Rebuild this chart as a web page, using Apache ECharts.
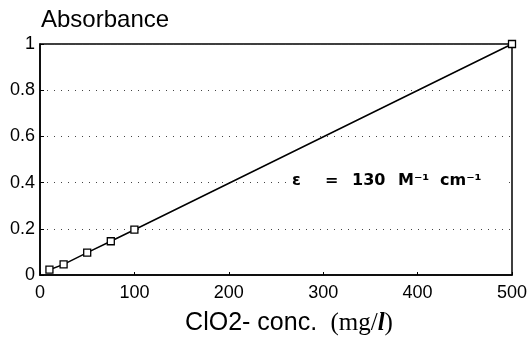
<!DOCTYPE html>
<html>
<head>
<meta charset="utf-8">
<script src="https://cdn.jsdelivr.net/npm/echarts@6/dist/echarts.min.js"></script>
<style>
  html, body { margin: 0; padding: 0; background: #fff; }
  #container { width: 528px; height: 337px; }
</style>
</head>
<body>
<div id="container"></div>
<script>
// concentration (mg/l) vs absorbance
const concValues = [10, 25, 50, 75, 100, 500];
const absorbance = [0.023, 0.046, 0.097, 0.146, 0.196, 1.0];
const xTicks = [0, 100, 200, 300, 400, 500];
const yTicks = [0, 0.2, 0.4, 0.6, 0.8, 1];

const myChart = echarts.init(document.getElementById('container'), null, { renderer: 'canvas' });
const font = 'Liberation Sans, Arial, sans-serif';
const noteFont = 'DejaVu Sans, sans-serif';

const option = {
  animation: false,
  backgroundColor: '#fff',
  title: {
    text: 'Absorbance',
    left: 36,
    top: 3,
    textStyle: { fontFamily: font, fontSize: 24, fontWeight: 'normal', color: '#000' }
  },
  grid: {
    left: 40, right: 16, top: 44, bottom: 62,
    outerBoundsMode: 'none',
    containLabel: false,
    show: true,
    borderColor: '#000',
    borderWidth: 1.5,
    backgroundColor: 'transparent'
  },
  xAxis: {
    type: 'value',
    min: xTicks[0],
    max: xTicks[xTicks.length - 1],
    interval: 100,
    name: '{a|ClO2- conc.}    {b|(mg/}{c|l}{b|)}',
    nameLocation: 'middle',
    nameGap: 36,
    nameTextStyle: {
      padding: [0, 0, 0, 26],
      rich: {
        a: { fontFamily: font, fontSize: 25, color: '#000' },
        b: { fontFamily: 'Liberation Serif, serif', fontSize: 25, color: '#000' },
        c: { fontFamily: 'Liberation Serif, serif', fontSize: 25, fontStyle: 'italic', fontWeight: 'bold', color: '#000' }
      }
    },
    axisLine: { lineStyle: { color: '#000', width: 1.5 } },
    axisTick: { inside: true, length: 3, lineStyle: { color: '#000' } },
    axisLabel: { fontFamily: font, fontSize: 18, color: '#000', margin: 9 },
    splitLine: { show: false }
  },
  yAxis: {
    type: 'value',
    min: yTicks[0],
    max: yTicks[yTicks.length - 1],
    interval: 0.2,
    axisLine: { show: true, lineStyle: { color: '#000', width: 1.5 } },
    axisTick: { show: true, inside: true, length: 4, lineStyle: { color: '#000' } },
    axisLabel: { fontFamily: font, fontSize: 18, color: '#000', margin: 5 },
    splitLine: {
      show: true,
      lineStyle: { color: '#444', type: [1, 6], width: 1 }
    }
  },
  graphic: [
    {
      type: 'text',
      left: 289,
      top: 171,
      z: 10,
      style: {
        text: '{e|ε}{q|=}{n|130}{m|M⁻¹}{c|cm⁻¹}',
        backgroundColor: '#fff',
        padding: [2, 3, 2, 3],
        rich: {
          e: { fontFamily: noteFont, fontWeight: 'bold', fontSize: 16, width: 33, fill: '#000' },
          q: { fontFamily: noteFont, fontWeight: 'bold', fontSize: 16, width: 27, fill: '#000' },
          n: { fontFamily: noteFont, fontWeight: 'bold', fontSize: 16, width: 46, fill: '#000' },
          m: { fontFamily: noteFont, fontWeight: 'bold', fontSize: 16, width: 42, fill: '#000' },
          c: { fontFamily: noteFont, fontWeight: 'bold', fontSize: 16, width: 60, fill: '#000' }
        }
      }
    }
  ],
  series: [
    {
      type: 'line',
      data: concValues.map((c, i) => [c, absorbance[i]]),
      symbol: 'rect',
      symbolSize: 7,
      showSymbol: true,
      lineStyle: { color: '#000', width: 1.5 },
      itemStyle: { color: '#fff', borderColor: '#000', borderWidth: 1.3 },
      z: 5
    }
  ]
};
myChart.setOption(option);
</script>
</body>
</html>
